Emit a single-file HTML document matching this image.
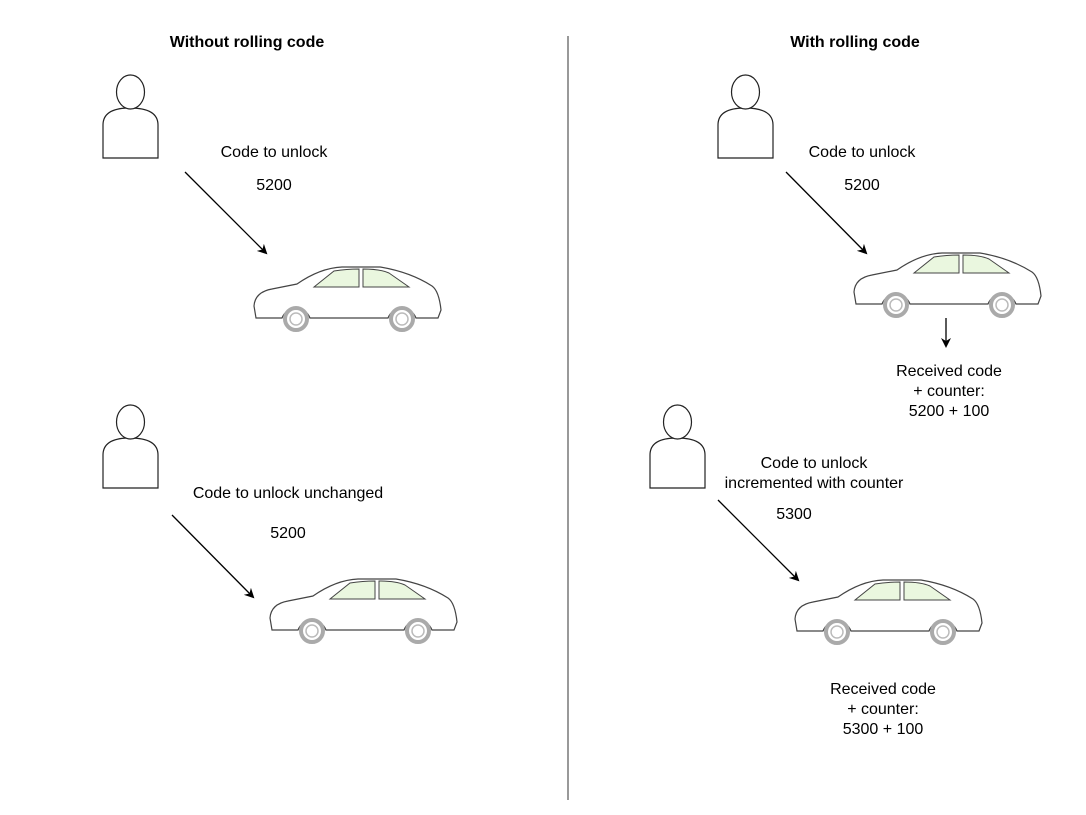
<!DOCTYPE html>
<html><head><style>body{margin:0;background:#fff}</style></head><body>
<svg width="1086" height="810" xmlns="http://www.w3.org/2000/svg" font-family="Liberation Sans, sans-serif" font-size="16">
<defs>
<g id="car">
<path d="M4 52 L2 40 Q3 26 20 23 L45 18 Q68 2 90 1 L128 1 Q158 6 180 20 Q187 25 189 44 L186 52 L164 52 A15 15 0 0 0 136 52 L58 52 A15 15 0 0 0 30 52 Z" fill="#fff" stroke="#444" stroke-width="1.2"/>
<path d="M62 21 L82 5 Q95 3 107 3 L107 21 Z" fill="#eaf7df" stroke="#444"/>
<path d="M111 3 Q128 3 137 7 L157 21 L111 21 Z" fill="#eaf7df" stroke="#444"/>
<circle cx="44" cy="53" r="11" fill="#fff" stroke="#aaa" stroke-width="4"/>
<circle cx="44" cy="53" r="6" fill="#fff" stroke="#bbb" stroke-width="1.5"/>
<circle cx="150" cy="53" r="11" fill="#fff" stroke="#aaa" stroke-width="4"/>
<circle cx="150" cy="53" r="6" fill="#fff" stroke="#bbb" stroke-width="1.5"/>
</g>
<g id="person" fill="#fff" stroke="#222" stroke-width="1.2">
<path d="M0 83 L0 50 Q0 33 27 33 Q55 33 55 50 L55 83 Z"/>
<ellipse cx="27.5" cy="17" rx="14" ry="17"/>
</g>
<marker id="ah" markerWidth="10" markerHeight="10" refX="8" refY="5" orient="auto" markerUnits="userSpaceOnUse"><path d="M0 0 L10 5 L0 10 L3 5 Z" fill="#000"/></marker>
</defs>
<line x1="568" y1="36" x2="568" y2="800" stroke="#333"/>
<text x="247" y="47" font-weight="bold" text-anchor="middle">Without rolling code</text>
<text x="855" y="47" font-weight="bold" text-anchor="middle">With rolling code</text>
<use href="#person" x="103" y="75"/>
<use href="#person" x="718" y="75"/>
<use href="#person" x="103" y="405"/>
<use href="#person" x="650" y="405"/>
<use href="#car" x="252" y="266"/>
<use href="#car" x="852" y="252"/>
<use href="#car" x="268" y="578"/>
<use href="#car" x="793" y="579"/>
<g stroke="#000" stroke-width="1.3" marker-end="url(#ah)">
<line x1="185" y1="172" x2="266" y2="253"/>
<line x1="786" y1="172" x2="866" y2="253"/>
<line x1="172" y1="515" x2="253" y2="597"/>
<line x1="718" y1="500" x2="798" y2="580"/>
<line x1="946" y1="318" x2="946" y2="346"/>
</g>
<g text-anchor="middle">
<text x="274" y="157">Code to unlock</text>
<text x="274" y="190">5200</text>
<text x="862" y="157">Code to unlock</text>
<text x="862" y="190">5200</text>
<text x="949" y="376">Received code</text>
<text x="949" y="396">+ counter:</text>
<text x="949" y="416">5200 + 100</text>
<text x="288" y="498">Code to unlock unchanged</text>
<text x="288" y="538">5200</text>
<text x="814" y="468">Code to unlock</text>
<text x="814" y="488">incremented with counter</text>
<text x="794" y="519">5300</text>
<text x="883" y="694">Received code</text>
<text x="883" y="714">+ counter:</text>
<text x="883" y="734">5300 + 100</text>
</g>
</svg>
</body></html>
